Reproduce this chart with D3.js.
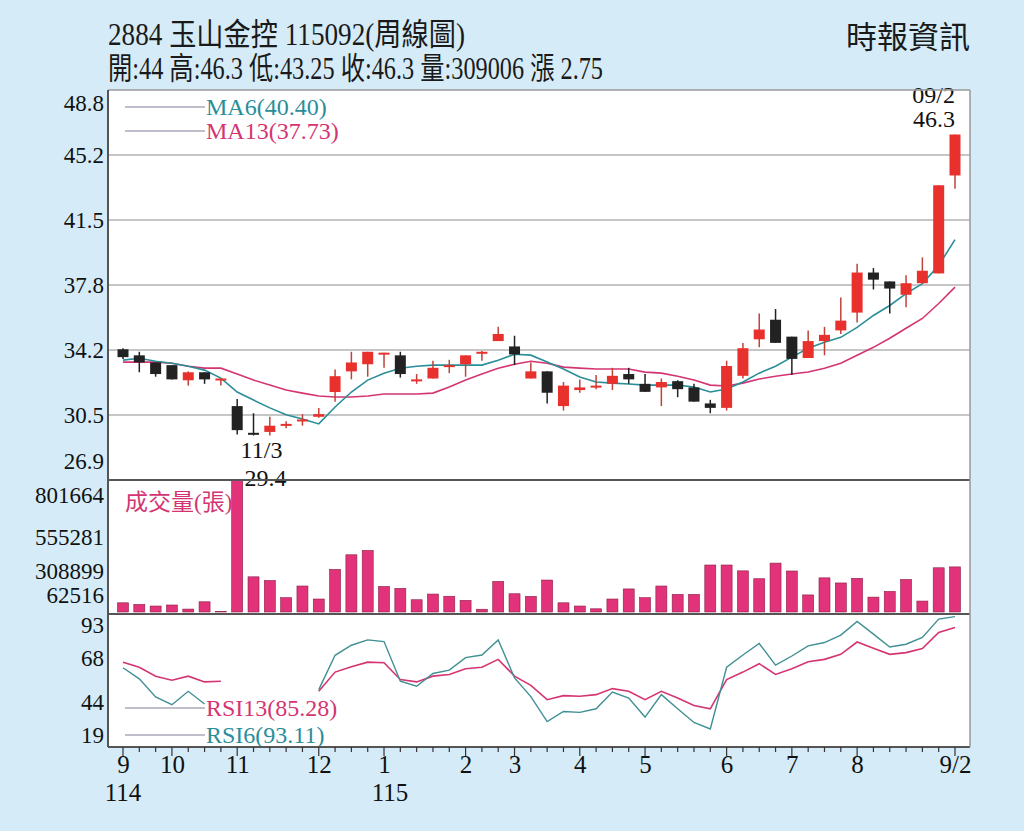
<!DOCTYPE html>
<html><head><meta charset="utf-8">
<script src="https://cdn.jsdelivr.net/npm/d3@7"></script>
<style>body{margin:0;background:#d5ecf8;}svg{display:block;}</style>
</head><body>
<svg id="c" width="1024" height="831"></svg>
<script>
const opens  =[34.24,33.9,33.5,33.35,32.5,32.95,32.5,31.05,29.55,29.6,30.0,30.25,30.45,31.84,33.0,33.4,33.95,33.9,32.5,32.6,33.3,33.4,34.05,34.7,34.4,32.6,33.0,31.05,31.95,32.15,32.3,32.85,32.3,32.1,32.45,32.1,31.2,30.95,32.75,34.8,35.9,34.95,33.75,34.7,35.3,36.3,38.55,38.05,37.3,37.95,38.5,44];
const highs  =[34.3,34.1,33.5,33.35,33.0,32.95,32.6,31.45,30.65,30.45,30.2,30.6,30.95,33.1,34.1,34.1,34.05,34.1,32.85,33.6,33.65,33.9,34.15,35.5,35.0,33.5,33.0,32.4,32.55,32.8,33.2,33.2,32.85,32.6,32.5,32.3,31.4,33.6,34.6,36.25,36.5,34.95,35.3,35.5,37.15,39.05,38.8,38.05,38.4,39.4,43.45,46.3];
const lows   =[33.7,32.95,32.7,32.55,32.2,32.3,32.2,29.45,29.4,29.4,29.8,29.95,30.4,31.3,32.55,32.7,33.2,32.65,32.3,32.6,32.9,32.7,33.6,34.7,33.35,32.6,31.2,30.8,31.8,32.0,31.95,32.3,31.85,31.05,31.55,31.3,30.65,30.8,32.6,34.35,34.6,32.8,33.75,33.9,35.1,35.75,37.6,36.25,36.6,37.95,38.5,43.25];
const closes =[33.8,33.5,32.85,32.55,32.95,32.55,32.6,29.7,29.5,29.95,30.05,30.3,30.6,32.73,33.5,34.1,34.05,32.85,32.55,33.2,33.35,33.9,34.1,35.1,33.95,33.0,31.8,32.2,32.1,32.2,32.75,32.55,31.85,32.4,32.0,31.3,30.95,33.3,34.3,35.35,34.6,33.7,34.7,35.05,35.85,38.55,38.15,37.65,37.95,38.65,43.45,46.3];
const ma6 =[33.63,33.74,33.57,33.46,33.29,33.07,32.62,31.84,31.39,30.95,30.56,30.33,30.05,31.0,31.84,32.51,32.9,33.18,33.29,33.35,33.35,33.35,33.35,33.63,33.96,33.91,33.52,33.13,32.68,32.4,32.34,32.29,32.23,32.23,32.23,32.12,31.84,32.01,32.4,32.9,33.29,33.8,34.3,34.63,34.91,35.47,36.14,36.7,37.37,37.93,38.94,40.40];
const ma13=[33.52,33.52,33.52,33.46,33.29,33.18,33.18,32.85,32.51,32.23,31.95,31.78,31.62,31.56,31.56,31.62,31.73,31.73,31.73,31.78,32.12,32.51,32.85,33.18,33.4,33.57,33.46,33.24,33.18,33.13,33.13,33.13,32.96,32.9,32.73,32.51,32.23,32.18,32.34,32.57,32.73,32.85,32.96,33.18,33.46,33.91,34.35,34.86,35.42,35.97,36.81,37.73];
const volumes=[63000,52000,41000,48000,20000,70000,3000,900000,241000,216000,98000,178000,89000,292000,392000,422000,175000,162000,84000,123000,108000,80000,19000,210000,125000,107000,219000,63000,41000,22000,89000,158000,98000,178000,121000,121000,322000,322000,282000,228000,335000,281000,117000,234000,199000,231000,102000,141000,223000,75000,303000,309006];
const rsi13=[60.6,57,50.6,47.7,50.6,46.5,47,null,null,null,null,null,39.8,53.5,57.3,60.6,60.2,48.2,46.5,50.6,51.8,55.9,57,62.6,50.6,44,33.8,36.7,36.2,37.4,41.7,39.8,33.8,39.8,35,29.7,27.3,48.2,53.5,59.5,51.8,55.9,60.9,62.6,66.2,75,70.5,66.2,67.4,70.3,81.8,85.28];
const rsi6 =[56.6,48.7,35.8,30.2,39.8,30.7,null,null,null,null,null,null,41,65.5,72.7,76.5,75.3,47,43.4,52.5,54.9,63.8,65.7,76.5,49.4,36,18.2,25.4,24.7,27.3,39.3,35,21.4,37.4,27.3,17.5,12.9,57,65.7,73.9,58.5,65,72.2,74.6,79.9,89.7,80.6,71.4,73.4,78.2,91.4,93.11];
const monthTicks=[{i:0,t:"9",y:"114"},{i:3,t:"10"},{i:7,t:"11"},{i:12,t:"12"},{i:16,t:"1",y:"115"},{i:21,t:"2"},{i:24,t:"3"},{i:28,t:"4"},{i:32,t:"5"},{i:37,t:"6"},{i:41,t:"7"},{i:45,t:"8"},{i:51,t:"9/2"}];
const priceTicks=[26.9,30.55,34.2,37.85,41.5,45.15,48.8];
const priceTickLabels=["26.9","30.5","34.2","37.8","41.5","45.2","48.8"];
const volTicks=[62516,308899,555281,801664];
const rsiTicks=[19,44,68,93];

const svg=d3.select("#c");
const L=108,R=970,T=90,P1=480,P2=614,B=747;
const serif="'Liberation Serif','DejaVu Serif','Noto Sans CJK TC',serif";
const cjk="'Liberation Serif','Noto Sans CJK TC',serif";
const teal="#2a8e99",mag="#d43572",red="#e8302c",blk="#222";
const idx=d3.range(closes.length);
const x=d3.scaleLinear().domain([0,51]).range([123,955]);
const y=d3.scaleLinear().domain([26.9,48.8]).range([P1,T]);
const yv=d3.scaleLinear().domain([0,801664]).range([612,495]);
const yr=d3.scaleLinear().domain([0,100]).range([B,607]);

svg.append("rect").attr("x",L).attr("y",T).attr("width",R-L).attr("height",B-T).attr("fill","#fff");
svg.append("clipPath").attr("id","cp1").append("rect").attr("x",L).attr("y",T).attr("width",R-L).attr("height",P1-T);
svg.append("clipPath").attr("id","cp2").append("rect").attr("x",L).attr("y",P1+1).attr("width",R-L).attr("height",P2-P1-1);
svg.append("clipPath").attr("id","cp3").append("rect").attr("x",L).attr("y",P2+1).attr("width",R-L).attr("height",B-P2-1);

svg.append("g").selectAll("line").data(priceTicks.slice(1,6)).join("line")
 .attr("x1",L).attr("x2",R).attr("y1",d=>y(d)).attr("y2",d=>y(d)).attr("stroke","#c6c6c6").attr("stroke-width",2);

svg.append("text").attr("x",108).attr("y",45).attr("font-family",cjk).attr("font-size",31).attr("fill","#1a1a1a")
 .attr("textLength",357).attr("lengthAdjust","spacingAndGlyphs").text("2884  玉山金控 115092(周線圖)");
svg.append("text").attr("x",108).attr("y",79).attr("font-family",cjk).attr("font-size",31).attr("fill","#1a1a1a")
 .attr("textLength",495).attr("lengthAdjust","spacingAndGlyphs").text("開:44 高:46.3 低:43.25 收:46.3 量:309006 漲 2.75");
svg.append("text").attr("x",970).attr("y",48).attr("text-anchor","end").attr("font-family",cjk).attr("font-size",31).attr("fill","#1a1a1a").text("時報資訊");

const g1=svg.append("g").attr("clip-path","url(#cp1)");
g1.append("path").datum(idx).attr("fill","none").attr("stroke",mag).attr("stroke-width",1.6)
 .attr("d",d3.line().x(i=>x(i)).y(i=>y(ma13[i])));
g1.append("path").datum(idx).attr("fill","none").attr("stroke",teal).attr("stroke-width",1.6)
 .attr("d",d3.line().x(i=>x(i)).y(i=>y(ma6[i])));
const cg=g1.selectAll("g.c").data(idx).join("g");
const col=i=>closes[i]>=opens[i]?red:blk;
cg.append("line").attr("x1",i=>x(i)).attr("x2",i=>x(i)).attr("y1",i=>y(highs[i])).attr("y2",i=>y(lows[i]))
 .attr("stroke",i=>closes[i]>=opens[i]?"#c0423a":blk).attr("stroke-width",1.5);
cg.append("rect").attr("x",i=>x(i)-5.5).attr("width",11)
 .attr("y",i=>y(Math.max(opens[i],closes[i]))).attr("height",i=>Math.max(2,Math.abs(y(opens[i])-y(closes[i]))))
 .attr("fill",col);

function leg(yy,c,t){svg.append("line").attr("x1",125).attr("x2",205).attr("y1",yy).attr("y2",yy).attr("stroke","#aab").attr("stroke-width",1.5);
 svg.append("text").attr("x",206).attr("y",yy+8).attr("font-family",serif).attr("font-size",24).attr("fill",c).text(t);}
leg(107,teal,"MA6(40.40)");leg(131,mag,"MA13(37.73)");
svg.append("text").attr("x",955).attr("y",103).attr("text-anchor","end").attr("font-family",serif).attr("font-size",24).attr("fill","#111").text("09/2");
svg.append("text").attr("x",955).attr("y",127).attr("text-anchor","end").attr("font-family",serif).attr("font-size",24).attr("fill","#111").text(highs[51]);
svg.append("text").attr("x",x(8)+8).attr("y",458).attr("text-anchor","middle").attr("font-family",serif).attr("font-size",24).attr("fill","#111").text("11/3");
svg.append("text").attr("x",x(8)+12).attr("y",486).attr("text-anchor","middle").attr("font-family",serif).attr("font-size",24).attr("fill","#111").text(lows[8]);

const g2=svg.append("g").attr("clip-path","url(#cp2)");
g2.selectAll("rect").data(idx).join("rect").attr("x",i=>x(i)-5.5).attr("width",11)
 .attr("y",i=>yv(volumes[i])).attr("height",i=>yv(0)-yv(volumes[i]))
 .attr("fill","#e2327a").attr("stroke","#8a2045").attr("stroke-width",0.6);
svg.append("text").attr("x",125).attr("y",510).attr("font-family",cjk).attr("font-size",23).attr("fill",mag).text("成交量(張)");

const g3=svg.append("g").attr("clip-path","url(#cp3)");
g3.append("path").datum(idx).attr("fill","none").attr("stroke",mag).attr("stroke-width",1.6)
 .attr("d",d3.line().defined(i=>rsi13[i]!=null).x(i=>x(i)).y(i=>yr(rsi13[i])));
g3.append("path").datum(idx).attr("fill","none").attr("stroke","#3f8f94").attr("stroke-width",1.4)
 .attr("d",d3.line().defined(i=>rsi6[i]!=null).x(i=>x(i)).y(i=>yr(rsi6[i])));
leg(708,mag,"RSI13(85.28)");leg(735,teal,"RSI6(93.11)");

[T,P1,P2,B].forEach(yy=>svg.append("line").attr("x1",L).attr("x2",R).attr("y1",yy).attr("y2",yy).attr("stroke",yy==T?"#999":"#555").attr("stroke-width",yy==T?1.5:2));
svg.append("line").attr("x1",L).attr("x2",L).attr("y1",T).attr("y2",B).attr("stroke","#555").attr("stroke-width",2);
svg.append("line").attr("x1",R).attr("x2",R).attr("y1",T).attr("y2",B).attr("stroke","#999").attr("stroke-width",1.5);

function styleAx(g){g.select(".domain").remove();g.selectAll(".tick line").remove();
 g.selectAll("text").attr("font-family",serif).attr("font-size",23).attr("fill","#111");}
const ay=svg.append("g").attr("transform",`translate(${L-2},0)`).call(d3.axisLeft(y).tickValues(priceTicks).tickFormat((d,i)=>priceTickLabels[i]).tickSize(0).tickPadding(2));
styleAx(ay);
ay.selectAll(".tick text").attr("dy",(d,i)=>i==0?"-0.5em":i==6?"0.9em":"0.32em");
const av=svg.append("g").attr("transform",`translate(${L-2},0)`).call(d3.axisLeft(yv).tickValues(volTicks).tickFormat(d3.format("d")).tickSize(0).tickPadding(2));
styleAx(av);
av.selectAll(".tick text").attr("dy",(d,i)=>["0em","0.5em","0.6em","0.32em"][i]);
const ar=svg.append("g").attr("transform",`translate(${L-2},0)`).call(d3.axisLeft(yr).tickValues(rsiTicks).tickSize(0).tickPadding(2));
styleAx(ar);
ar.selectAll(".tick text").attr("dy",(d,i)=>["0.95em","1.05em","0.6em","0.7em"][i]);

svg.append("g").selectAll("line").data(idx).join("line").attr("x1",i=>x(i)).attr("x2",i=>x(i))
 .attr("y1",B).attr("y2",i=>monthTicks.some(m=>m.i==i)?B+9:B+5).attr("stroke","#333").attr("stroke-width",1.2);
const ax=svg.append("g").attr("transform",`translate(0,${B})`)
 .call(d3.axisBottom(x).tickValues(monthTicks.map(m=>m.i)).tickFormat((d,i)=>monthTicks[i].t).tickSize(0).tickPadding(8));
styleAx(ax);ax.selectAll("text").attr("font-size",25);
svg.append("g").selectAll("text").data(monthTicks.filter(m=>m.y)).join("text").attr("x",m=>x(m.i)+(m.i==16?6:0)).attr("y",801)
 .attr("text-anchor","middle").attr("font-family",serif).attr("font-size",25).attr("fill","#111").text(m=>m.y);
</script></body></html>
